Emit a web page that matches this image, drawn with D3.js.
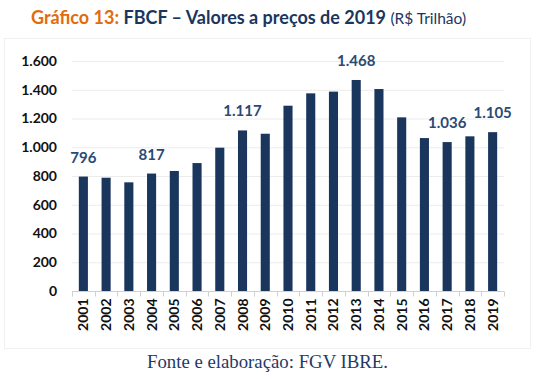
<!DOCTYPE html>
<html>
<head>
<meta charset="utf-8">
<script src="https://cdn.jsdelivr.net/npm/d3@7"></script>
<style>
  body { margin: 0; background: #fff; }
  svg { display: block; }
</style>
</head>
<body>
<div id="chart"></div>
<script>
// data
const years = ["2001","2002","2003","2004","2005","2006","2007","2008","2009","2010",
               "2011","2012","2013","2014","2015","2016","2017","2018","2019"];
const values = [796, 788, 756, 817, 835, 890, 997, 1117, 1094, 1289,
                1375, 1387, 1468, 1405, 1208, 1064, 1036, 1076, 1105];
const labelled = ["2001", "2004", "2008", "2013", "2017", "2019"];
const yTicks = [0, 200, 400, 600, 800, 1000, 1200, 1400, 1600];

const width = 553, height = 379;
const margin = {left: 72, right: 49, top: 61, bottom: 88};
const navy = "#1b365d";

const fmt = d => d3.format(",")(d).replace(/,/g, ".");

const svg = d3.select("#chart").append("svg")
    .attr("width", width)
    .attr("height", height);

// faint chart frame
svg.append("rect")
   .attr("x", 4.5).attr("y", 38.5)
   .attr("width", 526).attr("height", 310)
   .attr("fill", "none")
   .attr("stroke", "#f0f0f0");

// title
const title = svg.append("text")
   .attr("x", 31).attr("y", 24)
   .style("font-family", "Lato, 'Open Sans', sans-serif")
   .style("font-size", "18px")
   .style("font-weight", "bold");
title.append("tspan").attr("fill", "#e36c0a").text("Gráfico 13: ");
title.append("tspan").attr("fill", navy).text("FBCF – Valores a preços de 2019 ");
title.append("tspan").attr("fill", navy).style("font-weight", "normal")
     .style("font-size", "15.5px").text("(R$ Trilhão)");

const x = d3.scaleBand()
    .domain(years)
    .range([margin.left, width - margin.right])
    .paddingInner(0.6)
    .paddingOuter(0.3);

const y = d3.scaleLinear()
    .domain([0, 1600])
    .range([height - margin.bottom, margin.top]);

// gridlines
svg.append("g")
   .selectAll("line")
   .data(yTicks.slice(1))
   .enter().append("line")
   .attr("x1", margin.left).attr("x2", width - margin.right)
   .attr("y1", d => y(d) + 0.5).attr("y2", d => y(d) + 0.5)
   .attr("stroke", "#ececec");

// y axis labels
const yAxis = svg.append("g")
   .attr("transform", `translate(${margin.left},0)`)
   .call(d3.axisLeft(y).tickValues(yTicks).tickFormat(fmt).tickSize(0).tickPadding(15));
yAxis.select(".domain").remove();
yAxis.selectAll("text")
   .style("font-family", "Lato, 'Open Sans', sans-serif")
   .style("font-size", "14px")
   .style("font-weight", "bold")
   .attr("fill", "#111");

// bars
svg.append("g")
   .selectAll("rect")
   .data(years)
   .enter().append("rect")
   .attr("x", d => x(d))
   .attr("width", x.bandwidth())
   .attr("y", (d, i) => y(values[i]))
   .attr("height", (d, i) => y(0) - y(values[i]))
   .attr("fill", navy);

// x axis with category separators
const base = y(0) + 0.5;
svg.append("line")
   .attr("x1", margin.left).attr("x2", width - margin.right)
   .attr("y1", base).attr("y2", base)
   .attr("stroke", "#d0d0d0");
svg.append("g")
   .selectAll("line")
   .data(years.concat(["end"]))
   .enter().append("line")
   .attr("x1", (d, i) => Math.round(margin.left + i * x.step()) + 0.5)
   .attr("x2", (d, i) => Math.round(margin.left + i * x.step()) + 0.5)
   .attr("y1", base).attr("y2", base + 5)
   .attr("stroke", "#d0d0d0");

svg.append("g")
   .selectAll("text")
   .data(years)
   .enter().append("text")
   .attr("transform", d => `translate(${x(d) + x.bandwidth() / 2 + 5},${base + 7}) rotate(-90)`)
   .attr("text-anchor", "end")
   .style("font-family", "Lato, 'Open Sans', sans-serif")
   .style("font-size", "14px")
   .style("font-weight", "bold")
   .attr("fill", "#111")
   .text(d => d);

// value labels
svg.append("g")
   .selectAll("text")
   .data(years.filter(d => labelled.includes(d)))
   .enter().append("text")
   .attr("x", d => x(d) + x.bandwidth() / 2)
   .attr("y", d => y(values[years.indexOf(d)]) - 14)
   .attr("text-anchor", "middle")
   .style("font-family", "Lato, 'Open Sans', sans-serif")
   .style("font-size", "15px")
   .style("font-weight", "bold")
   .attr("fill", "#2b4a74")
   .text(d => fmt(values[years.indexOf(d)]));

// source
svg.append("text")
   .attr("x", 147).attr("y", 368)
   .attr("textLength", 241)
   .attr("lengthAdjust", "spacingAndGlyphs")
   .style("font-family", "'Liberation Serif', 'DejaVu Serif', serif")
   .style("font-size", "18px")
   .attr("fill", "#1f3a68")
   .text("Fonte e elaboração: FGV IBRE.");
</script>
</body>
</html>
